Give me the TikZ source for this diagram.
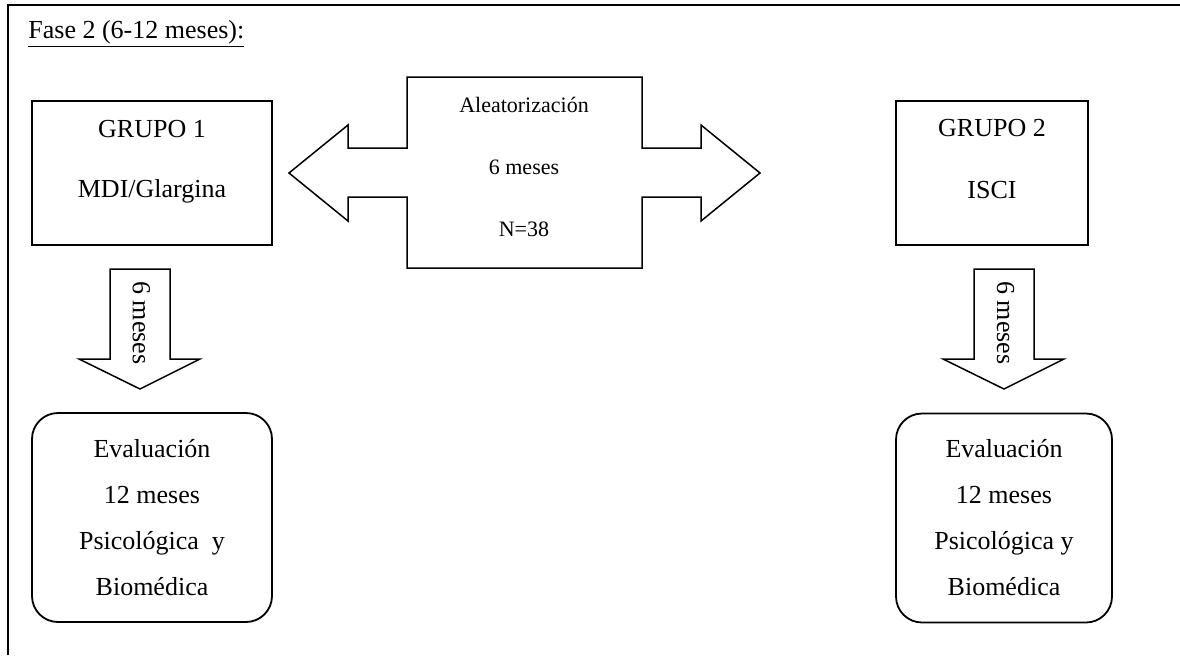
\documentclass[tikz,border=0pt]{standalone}
\usepackage{fontspec}
\setmainfont{Liberation Serif}
\usetikzlibrary{positioning,calc}

\begin{document}
\begin{tikzpicture}[x=0.5pt,y=-0.5pt,
    txt/.style={font=\fontsize{13}{15}\selectfont,inner sep=0pt,anchor=base},
    midtxt/.style={font=\fontsize{11}{13}\selectfont,inner sep=0pt,anchor=base},
    grpbox/.style={draw,line width=1pt,minimum height=72pt,inner sep=0pt},
    evalbox/.style={draw,line width=0.9pt,rounded corners=13pt,minimum height=104.5pt,
      align=center,font=\fontsize{13}{23}\selectfont,inner sep=0pt},
    blockarrow/.style={draw,line width=0.75pt,line join=miter}]
  \useasboundingbox (0,0) rectangle (1180,655);
  % marco de la tabla
  \draw[line width=1pt] (8,655) -- (8,5) -- (1180,5);
  \node[txt,anchor=base west] (title) at (28,38) {\underline{Fase 2 (6-12 meses):}};

  % grupos
  \node[grpbox,minimum width=120pt] (g1) at (152,173) {};
  \node[txt] (g1a) at (152,137) {GRUPO 1};
  \node[txt] (g1b) at (152,197) {MDI/Glargina};
  \node[grpbox,minimum width=96pt] (g2) at (992,173) {};
  \node[txt] (g2a) at (992,136) {GRUPO 2};
  \node[txt] (g2b) at (992,198) {ISCI};

  % aleatorizacion
  \draw[blockarrow] (407,77) -- (642,77) -- (642,148) -- (701,148) -- (701,125)
    -- (760,173) -- (701,221) -- (701,197) -- (642,197) -- (642,268) -- (407,268)
    -- (407,197) -- (348,197) -- (348,221) -- (289,173) -- (348,125) -- (348,148)
    -- (407,148) -- cycle;
  \node[midtxt] (alea) at (524,112) {Aleatorización};
  \node[midtxt] (meses) at (524,174) {6 meses};
  \node[midtxt] (n) at (524,236) {N=38};

  % flechas hacia abajo
  \draw[blockarrow] (110,269) -- (170,269) -- (170,359) -- (200,359) -- (140,389)
    -- (79,359) -- (110,359) -- cycle;
  \node[txt,rotate=-90] (d1) at (133,323) {6 meses};
  \draw[blockarrow] (974,269) -- (1034,269) -- (1034,359) -- (1064,359) -- (1004,389)
    -- (943,359) -- (974,359) -- cycle;
  \node[txt,rotate=-90] (d2) at (997,323) {6 meses};

  % evaluaciones
  \node[evalbox,minimum width=120pt] (ev1) at (152,517.5)
    {Evaluación\\12 meses\\Psicológica\ \ y\\Biomédica};
  \node[evalbox,minimum width=108pt] (ev2) at (1004,518)
    {Evaluación\\12 meses\\Psicológica y\\Biomédica};
\end{tikzpicture}
\end{document}
